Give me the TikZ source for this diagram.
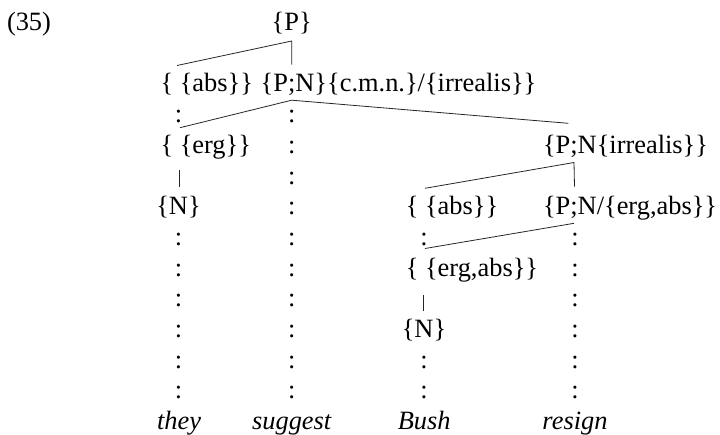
\documentclass[tikz,border=0pt]{standalone}
\usepackage{fontspec}
\setmainfont{Liberation Serif}
\newcommand\treefont{\fontsize{26.4}{30}\selectfont}
\begin{document}
\begin{tikzpicture}[x=1pt,y=-1pt,
  lab/.style={inner sep=0pt, outer sep=0pt, font=\treefont, anchor=base west},
  mid/.style={inner sep=0pt, outer sep=0pt, font=\treefont, anchor=base},
  word/.style={mid, font=\treefont\itshape},
  dep/.style={line width=0.8pt, black!85, line join=round}]
\useasboundingbox (0,0) rectangle (720,434);

% example number and root
\node[lab] (num) at (7,30.5) {(35)};
\node[mid] (P) at (291.7,30.5) {\{P\}};

% second row
\node[lab] (absA) at (160.5,91.9) {\{ \{abs\}\}};
\node[lab] (pn) at (260.7,91.9) {\{P;N\}\{c.m.n.\}/\{irrealis\}\}};

% third row
\node[lab] (ergA) at (160.5,153.3) {\{ \{erg\}\}};
\node[lab] (irr) at (543,153.3) {\{P;N\{irrealis\}\}};

% fourth row
\node[mid] (nA) at (178.5,214.7) {\{N\}};
\node[lab] (absC) at (405.8,214.7) {\{ \{abs\}\}};
\node[lab] (ea) at (543,214.7) {\{P;N/\{erg,abs\}\}};

% lower nodes under Bush
\node[lab] (eaC) at (405.8,276.1) {\{ \{erg,abs\}\}};
\node[mid] (nC) at (424,337.5) {\{N\}};

% words
\node[word] (w1) at (179,429.6) {they};
\node[word] (w2) at (291.7,429.6) {suggest};
\node[word] (w3) at (424.2,429.6) {Bush};
\node[word] (w4) at (575,429.6) {resign};

% association lines, drawn as colons
\foreach \cx/\k [count=\i] in {178.5/3,178.5/7,178.5/8,178.5/9,178.5/10,178.5/11,178.5/12,
  291.7/3,291.7/4,291.7/5,291.7/6,291.7/7,291.7/8,291.7/9,291.7/10,291.7/11,291.7/12,
  424/7,424/11,424/12,
  575/7,575/8,575/9,575/10,575/11,575/12}
  \node[mid] (colon\i) at (\cx,{30.5+30.7*\k}) {:};

% connector ends
\coordinate (P-bot) at (291.7,41);
\coordinate (absA-top) at (177,65.5);
\coordinate (pn-top) at (291.7,64.5);
\coordinate (pn-bot) at (291.7,100.2);
\coordinate (ergA-top) at (180,127.7);
\coordinate (irr-top) at (568.3,123.3);
\coordinate (irr-bot) at (574,162.5);
\coordinate (absC-top) at (425,188.3);
\coordinate (ea-top) at (574.5,186.7);
\coordinate (ea-bot) at (574,223.3);
\coordinate (eaC-top) at (425,248.5);
\coordinate (ergA-bot) at (179.3,170);
\coordinate (nA-top) at (179.3,187);
\coordinate (eaC-bot) at (423.5,295);
\coordinate (nC-top) at (423.5,310.5);

% dependency lines
\draw[dep] (absA-top) -- (P-bot) -- (pn-top);
\draw[dep] (ergA-top) -- (pn-bot) -- (irr-top);
\draw[dep] (absC-top) -- (irr-bot) -- (ea-top);
\draw[dep] (eaC-top) -- (ea-bot);
\draw[dep] (ergA-bot) -- (nA-top);
\draw[dep] (eaC-bot) -- (nC-top);
\end{tikzpicture}
\end{document}
